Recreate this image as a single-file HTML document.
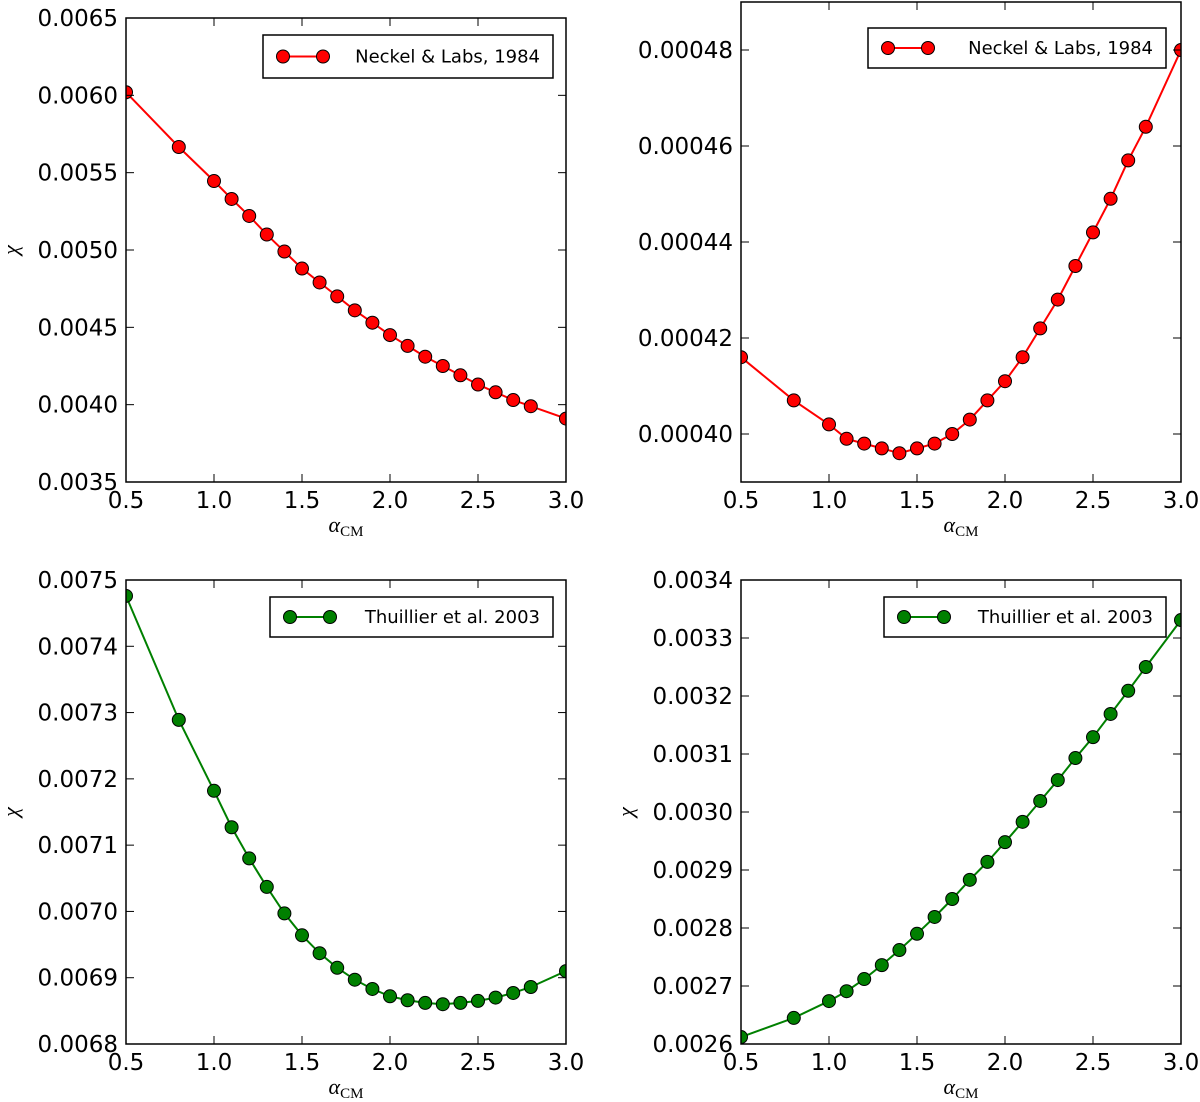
<!DOCTYPE html>
<html><head><meta charset="utf-8">
<style>
html,body{margin:0;padding:0;background:#fff;}
svg{display:block;font-family:"DejaVu Sans","Liberation Sans",sans-serif;}
</style></head>
<body>
<svg id="fig" width="1200" height="1102" viewBox="0 0 1200 1102" xmlns="http://www.w3.org/2000/svg"></svg>
<script>
const xsA = [0.5,0.8,1.0,1.1,1.2,1.3,1.4,1.5,1.6,1.7,1.8,1.9,2.0,2.1,2.2,2.3,2.4,2.5,2.6,2.7,2.8,3.0];
const neckelChi = [0.00602,0.005666,0.005446,0.00533,0.00522,0.00510,0.00499,0.00488,0.00479,0.00470,0.00461,0.00453,0.00445,0.00438,0.00431,0.00425,0.00419,0.00413,0.00408,0.00403,0.00399,0.00391];
const neckelChi2 = [0.000416,0.000407,0.000402,0.000399,0.000398,0.000397,0.000396,0.000397,0.000398,0.000400,0.000403,0.000407,0.000411,0.000416,0.000422,0.000428,0.000435,0.000442,0.000449,0.000457,0.000464,0.000480];
const thuillierChi = [0.007476,0.007289,0.007182,0.007127,0.00708,0.007037,0.006997,0.006964,0.006937,0.006915,0.006897,0.006883,0.006872,0.006866,0.006862,0.00686,0.006862,0.006865,0.00687,0.006877,0.006886,0.00691];
const thuillierChi2 = [0.002612,0.002645,0.002674,0.002691,0.002712,0.002736,0.002762,0.00279,0.002819,0.00285,0.002883,0.002914,0.002948,0.002983,0.003019,0.003055,0.003093,0.003129,0.003169,0.003209,0.00325,0.003331];
const xTicks = [0.5,1.0,1.5,2.0,2.5,3.0];
const xTickLabels = ["0.5","1.0","1.5","2.0","2.5","3.0"];
const yTicks1 = [0.0035,0.0040,0.0045,0.0050,0.0055,0.0060,0.0065];
const yTickLabels1 = ["0.0035","0.0040","0.0045","0.0050","0.0055","0.0060","0.0065"];
const yTicks2 = [0.00040,0.00042,0.00044,0.00046,0.00048];
const yTickLabels2 = ["0.00040","0.00042","0.00044","0.00046","0.00048"];
const yTicks3 = [0.0068,0.0069,0.0070,0.0071,0.0072,0.0073,0.0074,0.0075];
const yTickLabels3 = ["0.0068","0.0069","0.0070","0.0071","0.0072","0.0073","0.0074","0.0075"];
const yTicks4 = [0.0026,0.0027,0.0028,0.0029,0.0030,0.0031,0.0032,0.0033,0.0034];
const yTickLabels4 = ["0.0026","0.0027","0.0028","0.0029","0.0030","0.0031","0.0032","0.0033","0.0034"];

const NS="http://www.w3.org/2000/svg";
const fig=document.getElementById('fig');
function mk(tag,attrs,parent,text){const e=document.createElementNS(NS,tag);for(const k in attrs)e.setAttribute(k,attrs[k]);if(text!==undefined)e.textContent=text;parent.appendChild(e);return e;}

function panel(o){
  const g=mk('g',{},fig);
  
  
  const X=v=>o.x0+(v-0.5)/2.5*(o.x1-o.x0);
  const Y=v=>o.y1-(v-o.ymin)/(o.ymax-o.ymin)*(o.y1-o.y0);
  const pts=xsA.map((x,i)=>X(x)+','+Y(o.vals[i])).join(' ');
  const cp=mk('clipPath',{id:'c'+o.name},g);
  mk('rect',{x:o.x0,y:o.y0,width:o.x1-o.x0,height:o.y1-o.y0},cp);
  const sg=mk('g',{'clip-path':'url(#c'+o.name+')'},g);
  
  
  const pl=mk('polyline',{points:pts,fill:'none',stroke:o.color,'stroke-width':2},sg);
  
  
  xsA.forEach((x,i)=>{
    const c=mk('circle',{cx:X(x),cy:Y(o.vals[i]),r:6.5,fill:o.color,stroke:'#000','stroke-width':1},sg);
    
    
  });
  const fr=mk('rect',{x:o.x0,y:o.y0,width:o.x1-o.x0,height:o.y1-o.y0,fill:'none',stroke:'#000','stroke-width':1.5},g);
  
  
  xTicks.forEach((t,i)=>{
    const x=X(t);
    mk('line',{x1:x,x2:x,y1:o.y1,y2:o.y1-8,stroke:'#000','stroke-width':1},g);
    mk('line',{x1:x,x2:x,y1:o.y0,y2:o.y0+8,stroke:'#000','stroke-width':1},g);
    const tl=mk('text',{x:x,y:o.y1+26,'font-size':23,'text-anchor':'middle'},g,xTickLabels[i]);
    
    
  });
  o.yt.forEach((t,i)=>{
    const y=Y(t);
    mk('line',{x1:o.x0,x2:o.x0+8,y1:y,y2:y,stroke:'#000','stroke-width':1},g);
    mk('line',{x1:o.x1,x2:o.x1-8,y1:y,y2:y,stroke:'#000','stroke-width':1},g);
    const tl=mk('text',{x:o.x0-8,y:y+8,'font-size':23,'text-anchor':'end'},g,o.ytl[i]);
    
    
  });
  const xl=mk('text',{x:(o.x0+o.x1)/2,y:o.y1+50,'font-size':22,'text-anchor':'middle','font-family':'Liberation Serif, serif'},g);
  
  
  mk('tspan',{'font-style':'italic'},xl,'α');
  mk('tspan',{'font-size':15,dy:4},xl,'CM');
  if(o.ylab){
    const yl=mk('text',{x:0,y:0,'font-size':22,'text-anchor':'middle','font-style':'italic','font-family':'Liberation Serif, serif',transform:`translate(${o.ylx},${(o.y0+o.y1)/2}) rotate(-90)`},g,'χ');
    
    
  }
  const lg=mk('g',{},g);
  
  
  const L=o.leg;
  mk('rect',{x:L[0],y:L[1],width:L[2]-L[0],height:L[3]-L[1],fill:'#fff',stroke:'#000','stroke-width':1.5},lg);
  const my=(L[1]+L[3])/2;
  mk('line',{x1:L[0]+20,x2:L[0]+60,y1:my,y2:my,stroke:o.color,'stroke-width':2},lg);
  mk('circle',{cx:L[0]+20,cy:my,r:6.5,fill:o.color,stroke:'#000'},lg);
  mk('circle',{cx:L[0]+60,cy:my,r:6.5,fill:o.color,stroke:'#000'},lg);
  const lt=mk('text',{x:L[2]-13,y:my+6,'font-size':18,'text-anchor':'end'},lg,o.label);
  
  
}
panel({name:'panel-neckel-left',x0:126,x1:566,y0:18,y1:482,ymin:0.0035,ymax:0.0065,vals:neckelChi,yt:yTicks1,ytl:yTickLabels1,color:'#ff0000',ylab:true,ylx:18,leg:[263,35,553,78],label:'Neckel & Labs, 1984'});
panel({name:'panel-neckel-right',x0:741,x1:1181,y0:2,y1:482,ymin:0.00039,ymax:0.00049,vals:neckelChi2,yt:yTicks2,ytl:yTickLabels2,color:'#ff0000',ylab:false,leg:[868,28,1166,68],label:'Neckel & Labs, 1984'});
panel({name:'panel-thuillier-left',x0:126,x1:566,y0:580,y1:1044,ymin:0.0068,ymax:0.0075,vals:thuillierChi,yt:yTicks3,ytl:yTickLabels3,color:'#008000',ylab:true,ylx:18,leg:[270,597,553,637],label:'Thuillier et al. 2003'});
panel({name:'panel-thuillier-right',x0:741,x1:1181,y0:580,y1:1044,ymin:0.0026,ymax:0.0034,vals:thuillierChi2,yt:yTicks4,ytl:yTickLabels4,color:'#008000',ylab:true,ylx:633,leg:[884,597,1166,637],label:'Thuillier et al. 2003'});
</script>
</body></html>
